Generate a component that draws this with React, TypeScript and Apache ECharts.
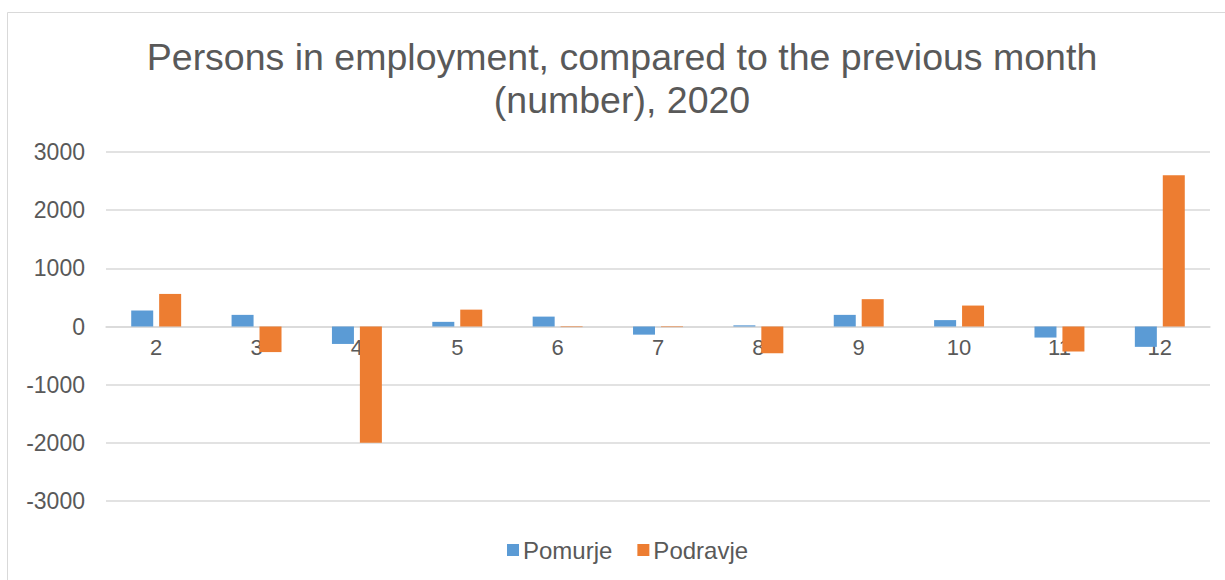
import React, { useEffect, useRef } from "react";
import * as echarts from "echarts";

const categories = ["2", "3", "4", "5", "6", "7", "8", "9", "10", "11", "12"];
const pomurje = [275, 200, -300, 80, 170, -140, 20, 200, 110, -190, -350];
const podravje = [560, -440, -2000, 290, -10, -10, -460, 470, 360, -430, 2600];
const seriesNames = ["Pomurje", "Podravje"];
const titleText = "Persons in employment, compared to the previous month\n(number), 2020";
const yMin = -3000;
const yMax = 3000;
const yStep = 1000;

export default function App() {
  const ref = useRef<HTMLDivElement>(null);
  useEffect(() => {
    if (!ref.current) return;
    const chart = echarts.init(ref.current, null, { renderer: "svg" });
    const font = "'Liberation Sans', Arial, sans-serif";
    const gridTop = 152;
    const gridBottom = 79;
    const plotH = 580 - gridTop - gridBottom;
    const zeroOffset = -plotH * (0 - yMin) / (yMax - yMin);
    chart.setOption({
      animation: false,
      textStyle: { fontFamily: font },
      graphic: [
        {
          type: "rect",
          shape: { x: 7.5, y: 12.5, width: 1240, height: 600 },
          style: { fill: "none", stroke: "#d9d9d9", lineWidth: 1 },
          silent: true,
        },
        {
          type: "text",
          x: 622,
          y: 35,
          silent: true,
          style: {
            text: titleText,
            fontFamily: font,
            fontSize: 37.5,
            fontWeight: "normal",
            fill: "#595959",
            lineHeight: 43,
            align: "center",
            verticalAlign: "top",
          },
        },
      ],
      legend: {
        data: seriesNames,
        bottom: 13,
        left: 502,
        itemWidth: 12,
        itemHeight: 12,
        itemGap: 25,
        icon: "rect",
        textStyle: { fontFamily: font, fontSize: 24, color: "#595959", padding: [0, 0, 0, -1] },
      },
      grid: { left: 106, right: 15, top: gridTop, bottom: gridBottom, containLabel: false },
      xAxis: {
        type: "category",
        data: categories,
        offset: zeroOffset,
        axisLine: { onZero: false, lineStyle: { color: "#d9d9d9", width: 1.5 } },
        axisTick: { show: false },
        axisLabel: { fontFamily: font, fontSize: 22, color: "#595959", margin: 10 },
      },
      yAxis: {
        type: "value",
        min: yMin,
        max: yMax,
        interval: yStep,
        axisLine: { show: false },
        axisTick: { show: false },
        splitLine: { lineStyle: { color: "#d9d9d9", width: 1.5 } },
        axisLabel: {
          fontFamily: font,
          fontSize: 23,
          color: "#595959",
          margin: 21,
          formatter: (v: number) => String(v),
        },
      },
      series: [
        {
          name: seriesNames[0],
          type: "bar",
          data: pomurje,
          barWidth: 22,
          barGap: "27%",
          itemStyle: { color: "#5B9BD5" },
        },
        {
          name: seriesNames[1],
          type: "bar",
          data: podravje,
          barWidth: 22,
          barGap: "27%",
          itemStyle: { color: "#ED7D31" },
        },
      ],
    });
    return () => chart.dispose();
  }, []);
  return (
    <div
      ref={ref}
      style={{ position: "fixed", left: 0, top: 0, width: 1225, height: 580, background: "#fff" }}
    />
  );
}
